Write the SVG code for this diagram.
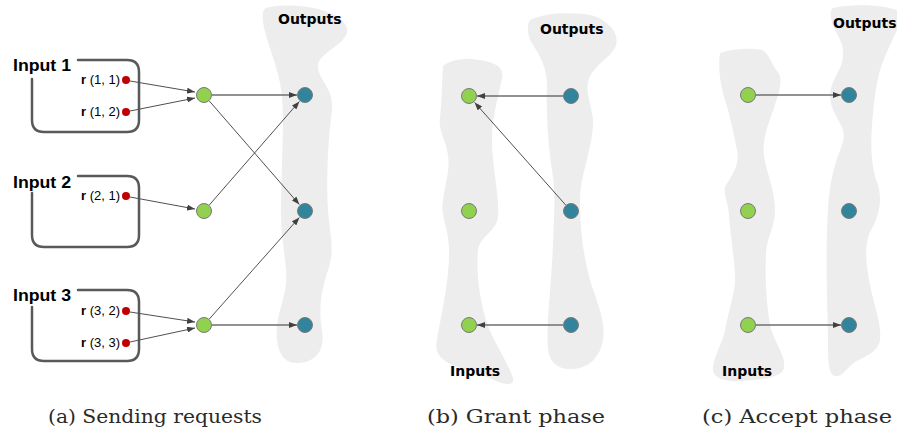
<svg xmlns="http://www.w3.org/2000/svg" width="897" height="434" viewBox="0 0 897 434">
  <style>
    .blob { fill: #ededed; stroke: none; }
    .in { fill: #92d050; stroke: #7a7a7a; stroke-width: 1; }
    .out { fill: #31849b; stroke: #7a7a7a; stroke-width: 1; }
    .req { fill: #c00000; }
    .box { fill: none; stroke: #595959; stroke-width: 2.5; stroke-linecap: round; }
    .edge { fill: none; stroke: #505050; stroke-width: 1; marker-end: url(#arrow); }
    .edge.h { stroke: #6e6e6e; stroke-width: 1.3; }
    .lbl { font-family: "Liberation Sans", Arial, sans-serif; font-weight: bold; font-size: 16px; fill: #000; }
    .rq { font-family: "Liberation Sans", Arial, sans-serif; font-size: 13px; fill: #000; text-anchor: end; }
    .side { font-family: "DejaVu Sans", sans-serif; font-weight: bold; font-size: 14px; fill: #000; }
    .cap { font-family: "DejaVu Serif", "Liberation Serif", serif; font-size: 19px; fill: #2a2a2a; }
  </style>
  <defs>
    <marker id="arrow" markerWidth="8" markerHeight="6" refX="8" refY="3" orient="auto" markerUnits="userSpaceOnUse">
      <path d="M0,0 L8,3 L0,6 z" fill="#404040"/>
    </marker>
  </defs>

  <rect width="897" height="434" fill="#ffffff"/>

  <!-- background regions -->
  <g id="regions">
    <!-- (a) outputs -->
    <path class="blob" d="M266,8 C285,2 340,6 347,28 C350,44 318,52 318,66 C318,80 334,88 332,110 C328,140 326,180 328,210 C330,235 335,250 328,270 C322,290 318,305 322,330 C326,356 310,363 296,363 C281,363 275,346 277,326 C279,306 288,294 286,270 C284,245 280,230 281,200 C282,160 284,120 282,96 C280,72 268,45 264,28 C262,16 262,10 266,8 Z"/>
    <!-- (b) inputs -->
    <path class="blob" d="M443,66 C452,58 470,58 480,60 C492,62 505,66 502,78 C499,95 492,115 492,140 C492,165 500,200 498,217 C496,232 480,236 478,250 C476,275 480,300 486,320 C492,340 508,362 513,378 C515,386 505,385 496,381 C480,373 470,372 455,366 C440,360 434,352 437,340 C440,320 450,280 449,248 C448,225 440,215 443,200 C446,180 450,170 448,155 C446,140 438,130 440,118 C442,100 442,80 443,66 Z"/>
    <!-- (b) outputs -->
    <path class="blob" d="M530,20 C545,12 575,12 590,15 C605,18 620,32 616,45 C612,58 592,65 588,82 C585,95 594,110 593,125 C592,150 580,175 580,200 C580,225 582,250 590,280 C596,300 606,320 603,340 C600,358 588,368 573,369 C560,370 550,364 548,350 C546,320 552,280 553,243 C554,215 556,195 552,170 C548,145 546,110 547,88 C548,70 540,55 533,45 C528,38 526,26 530,20 Z"/>
    <!-- (c) inputs -->
    <path class="blob" d="M720,53 C735,48 752,48 762,50 C770,54 772,66 778,72 C784,80 778,95 774,108 C768,125 762,140 764,155 C766,172 775,190 775,210 C775,228 766,238 766,255 C765,275 766,300 770,325 C775,345 786,355 784,368 C782,378 760,380 740,381 C725,382 712,378 713,368 C714,355 722,345 725,330 C730,305 736,290 735,275 C734,255 730,232 729,215 C728,200 722,192 726,185 C732,175 740,165 737,150 C734,135 730,115 725,100 C720,85 718,65 720,53 Z"/>
    <!-- (c) outputs -->
    <path class="blob" d="M833,8 C850,4 880,4 897,10 L897,30 C890,45 884,58 880,70 C876,85 874,100 872,125 C870,150 872,170 878,185 C882,200 880,215 870,232 C864,245 866,265 870,285 C874,305 882,325 880,340 C878,352 866,356 855,362 C846,368 842,378 835,376 C828,374 828,360 828,335 C827,300 826,265 827,232 C828,200 830,180 836,162 C840,148 846,140 843,130 C840,120 830,110 830,96 C830,82 840,72 842,62 C845,50 842,42 836,32 C832,24 828,12 833,8 Z"/>
  </g>

  <!-- input request boxes -->
  <g id="input1">
    <path class="box" d="M32,79 L32,120 Q32,132 44,132 L127,132 Q139,132 139,120 L139,72 Q139,60 127,60 L78,60"/>
    <text class="lbl" x="13" y="71" textLength="58" lengthAdjust="spacingAndGlyphs">Input 1</text>
    <text class="rq" x="120" y="84"><tspan font-weight="bold">r</tspan> (1, 1)</text>
    <text class="rq" x="120" y="116"><tspan font-weight="bold">r</tspan> (1, 2)</text>
    <circle class="req" cx="126" cy="80" r="4"/>
    <circle class="req" cx="126" cy="112" r="4"/>
  </g>
  <g id="input2">
    <path class="box" d="M32,193 L32,235 Q32,247 44,247 L127,247 Q139,247 139,235 L139,188 Q139,176 127,176 L78,176"/>
    <text class="lbl" x="13" y="188" textLength="58" lengthAdjust="spacingAndGlyphs">Input 2</text>
    <text class="rq" x="120" y="200"><tspan font-weight="bold">r</tspan> (2, 1)</text>
    <circle class="req" cx="126" cy="196" r="4"/>
  </g>
  <g id="input3">
    <path class="box" d="M32,307 L32,349 Q32,361 44,361 L127,361 Q139,361 139,349 L139,302 Q139,290 127,290 L78,290"/>
    <text class="lbl" x="13" y="301" textLength="58" lengthAdjust="spacingAndGlyphs">Input 3</text>
    <text class="rq" x="120" y="315"><tspan font-weight="bold">r</tspan> (3, 2)</text>
    <text class="rq" x="120" y="347"><tspan font-weight="bold">r</tspan> (3, 3)</text>
    <circle class="req" cx="126" cy="311" r="4"/>
    <circle class="req" cx="126" cy="343" r="4"/>
  </g>

  <!-- connectors -->
  <g id="connectors">
    <!-- (a) requests -->
    <line class="edge" x1="130" y1="81" x2="195" y2="92"/>
    <line class="edge" x1="130" y1="111" x2="195" y2="98"/>
    <line class="edge" x1="130" y1="197" x2="195" y2="209"/>
    <line class="edge" x1="130" y1="312" x2="195" y2="322"/>
    <line class="edge" x1="130" y1="342" x2="195" y2="328"/>
    <line class="edge h" x1="212" y1="95" x2="297" y2="95"/>
    <line class="edge" x1="209.3" y1="101" x2="299.4" y2="204.6"/>
    <line class="edge" x1="209.3" y1="205" x2="299.4" y2="101.4"/>
    <line class="edge" x1="209.3" y1="319" x2="299.4" y2="217.4"/>
    <line class="edge h" x1="212" y1="325" x2="297" y2="325"/>
    <!-- (b) grants -->
    <line class="edge h" x1="563" y1="96" x2="477" y2="96"/>
    <line class="edge" x1="565.7" y1="205" x2="474.6" y2="102.4"/>
    <line class="edge h" x1="563" y1="325" x2="477" y2="325"/>
    <!-- (c) accepts -->
    <line class="edge h" x1="756" y1="95" x2="841" y2="95"/>
    <line class="edge h" x1="756" y1="325" x2="841" y2="325"/>
  </g>

  <!-- (a) nodes -->
  <g id="a-in1"><circle class="in" cx="204" cy="95" r="7.5"/></g>
  <g id="a-in2"><circle class="in" cx="204" cy="211" r="7.5"/></g>
  <g id="a-in3"><circle class="in" cx="204" cy="325" r="7.5"/></g>
  <g id="a-out1"><circle class="out" cx="305" cy="95" r="7.5"/></g>
  <g id="a-out2"><circle class="out" cx="305" cy="211" r="7.5"/></g>
  <g id="a-out3"><circle class="out" cx="305" cy="325" r="7.5"/></g>

  <!-- (b) nodes -->
  <g id="b-in1"><circle class="in" cx="469" cy="96" r="7.5"/></g>
  <g id="b-in2"><circle class="in" cx="469" cy="211" r="7.5"/></g>
  <g id="b-in3"><circle class="in" cx="469" cy="325" r="7.5"/></g>
  <g id="b-out1"><circle class="out" cx="571" cy="96" r="7.5"/></g>
  <g id="b-out2"><circle class="out" cx="571" cy="211" r="7.5"/></g>
  <g id="b-out3"><circle class="out" cx="571" cy="325" r="7.5"/></g>

  <!-- (c) nodes -->
  <g id="c-in1"><circle class="in" cx="748" cy="95" r="7.5"/></g>
  <g id="c-in2"><circle class="in" cx="748" cy="211" r="7.5"/></g>
  <g id="c-in3"><circle class="in" cx="748" cy="325" r="7.5"/></g>
  <g id="c-out1"><circle class="out" cx="849" cy="95" r="7.5"/></g>
  <g id="c-out2"><circle class="out" cx="849" cy="211" r="7.5"/></g>
  <g id="c-out3"><circle class="out" cx="849" cy="325" r="7.5"/></g>

  <!-- side labels -->
  <g id="labels">
    <text class="side" x="278" y="24">Outputs</text>
    <text class="side" x="540" y="34">Outputs</text>
    <text class="side" x="450" y="376">Inputs</text>
    <text class="side" x="833" y="28">Outputs</text>
    <text class="side" x="722" y="376">Inputs</text>
  </g>

  <!-- captions -->
  <g id="captions">
    <text class="cap" x="48" y="423" textLength="214" lengthAdjust="spacingAndGlyphs">(a) Sending requests</text>
    <text class="cap" x="427" y="423" textLength="178" lengthAdjust="spacingAndGlyphs">(b) Grant phase</text>
    <text class="cap" x="702" y="423" textLength="190" lengthAdjust="spacingAndGlyphs">(c) Accept phase</text>
  </g>
</svg>
